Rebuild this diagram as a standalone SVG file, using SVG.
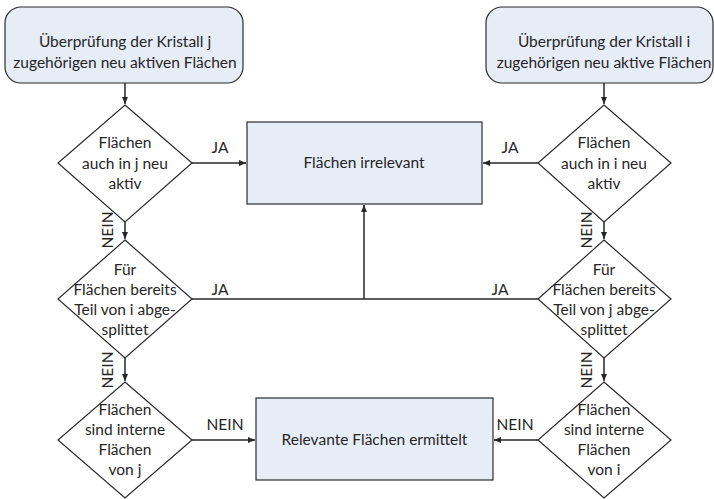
<svg xmlns="http://www.w3.org/2000/svg" width="714" height="499" viewBox="0 0 714 499">
  <style>
    text { font-family: "Lato", "Liberation Sans", sans-serif; font-size: 15.5px; fill: #262626; text-anchor: middle; }
    .start { fill: #e7edf7; stroke: #2b2b2b; stroke-width: 1.2; }
    .box { fill: #e7edf7; stroke: #2b2b2b; stroke-width: 1.2; }
    .dec { fill: #ffffff; stroke: #2b2b2b; stroke-width: 1.2; }
    .wire { fill: none; stroke: #262626; stroke-width: 1.5; }
    .arr { marker-end: url(#head); }
  </style>
  <defs>
    <marker id="head" markerUnits="userSpaceOnUse" markerWidth="8" markerHeight="8" refX="7" refY="4" orient="auto">
      <path d="M0,1 L7,4 L0,7 Z" fill="#262626"/>
    </marker>
  </defs>

  <rect width="714" height="499" fill="#ffffff"/>

  <!-- connectors -->
  <g id="connectors">
    <path class="wire arr" d="M125,83 V104"/>
    <path class="wire arr" d="M192,163 H246"/>
    <path class="wire arr" d="M125,222 V239"/>
    <path class="wire arr" d="M125,358 V381"/>
    <path class="wire arr" d="M192,440 H255"/>
    <path class="wire arr" d="M604,83 V104"/>
    <path class="wire arr" d="M538,163 H483"/>
    <path class="wire arr" d="M604,222 V239"/>
    <path class="wire arr" d="M604,358 V381"/>
    <path class="wire arr" d="M538,440 H494"/>
    <path class="wire" d="M192,299 H538"/>
    <path class="wire arr" d="M364,299 V205"/>

    <text x="220" y="153">JA</text>
    <text x="510" y="153">JA</text>
    <text x="220" y="295">JA</text>
    <text x="500" y="295">JA</text>
    <text x="225" y="430">NEIN</text>
    <text x="515" y="430">NEIN</text>
    <text transform="translate(113,230) rotate(-90)">NEIN</text>
    <text transform="translate(113,370) rotate(-90)">NEIN</text>
    <text transform="translate(592,230) rotate(-90)">NEIN</text>
    <text transform="translate(592,370) rotate(-90)">NEIN</text>
  </g>

  <!-- start boxes -->
  <g id="start-j">
    <rect class="start" x="5" y="7" width="238" height="76" rx="16"/>
    <text x="125" y="47">Überprüfung der Kristall j</text>
    <text x="125" y="68">zugehörigen neu aktiven Flächen</text>
  </g>
  <g id="start-i">
    <rect class="start" x="486" y="7" width="227" height="76" rx="16"/>
    <text x="604" y="47">Überprüfung der Kristall i</text>
    <text x="604" y="68">zugehörigen neu aktive Flächen</text>
  </g>

  <!-- left decision column -->
  <g id="dec-j-active">
    <polygon class="dec" points="125,105 192,163 125,222 58,163"/>
    <text x="125" y="148">Flächen</text>
    <text x="125" y="169">auch in j neu</text>
    <text x="125" y="189">aktiv</text>
  </g>
  <g id="dec-j-split">
    <polygon class="dec" points="125,240 192,299 125,358 58,299"/>
    <text x="125" y="275">Für</text>
    <text x="125" y="295">Flächen bereits</text>
    <text x="125" y="315">Teil von i abge-</text>
    <text x="125" y="335">splittet</text>
  </g>
  <g id="dec-j-internal">
    <polygon class="dec" points="125,382 192,440 125,498 58,440"/>
    <text x="125" y="415">Flächen</text>
    <text x="125" y="435">sind interne</text>
    <text x="125" y="455">Flächen</text>
    <text x="125" y="475">von j</text>
  </g>

  <!-- right decision column -->
  <g id="dec-i-active">
    <polygon class="dec" points="604,105 671,163 604,222 538,163"/>
    <text x="604" y="148">Flächen</text>
    <text x="604" y="169">auch in i neu</text>
    <text x="604" y="189">aktiv</text>
  </g>
  <g id="dec-i-split">
    <polygon class="dec" points="604,240 671,299 604,358 538,299"/>
    <text x="604" y="275">Für</text>
    <text x="604" y="295">Flächen bereits</text>
    <text x="604" y="315">Teil von j abge-</text>
    <text x="604" y="335">splittet</text>
  </g>
  <g id="dec-i-internal">
    <polygon class="dec" points="604,382 671,440 604,498 538,440"/>
    <text x="604" y="415">Flächen</text>
    <text x="604" y="435">sind interne</text>
    <text x="604" y="455">Flächen</text>
    <text x="604" y="475">von i</text>
  </g>

  <!-- result boxes -->
  <g id="irrelevant">
    <rect class="box" x="247" y="122" width="235" height="82"/>
    <text x="364" y="168">Flächen irrelevant</text>
  </g>
  <g id="relevant">
    <rect class="box" x="256" y="398" width="237" height="82"/>
    <text x="374.5" y="445">Relevante Flächen ermittelt</text>
  </g>
</svg>
